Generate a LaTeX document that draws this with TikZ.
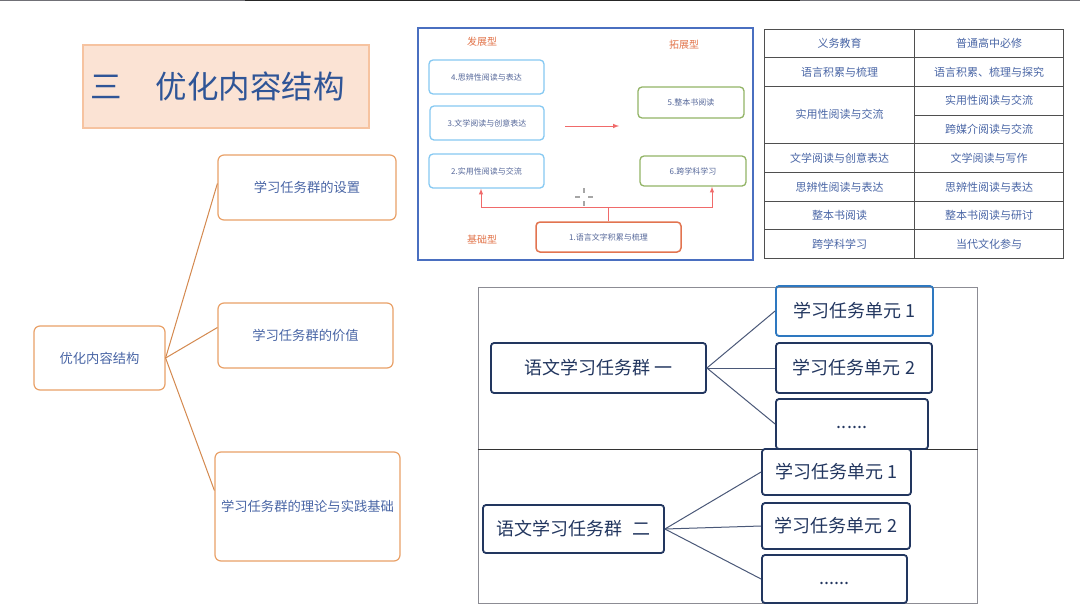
\documentclass[tikz,border=0pt]{standalone}
\usepackage{fontspec}
\setmainfont{Noto Sans CJK SC}
\usetikzlibrary{calc, positioning}

\definecolor{txtblue}{HTML}{2F5597}
\definecolor{softblue}{HTML}{4A66A6}
\definecolor{grayblue}{HTML}{56689A}
\definecolor{peach}{HTML}{FBE3D4}
\definecolor{peachline}{HTML}{F6C3A0}
\definecolor{boxorange}{HTML}{E9A168}
\definecolor{twigorange}{HTML}{D4894F}
\definecolor{panelblue}{HTML}{4A6FC0}
\definecolor{skyline}{HTML}{86C9F2}
\definecolor{leafgreen}{HTML}{92B466}
\definecolor{baseorange}{HTML}{E27450}
\definecolor{typeorange}{HTML}{E2744A}
\definecolor{arrowred}{HTML}{F06A6A}
\definecolor{tblgray}{HTML}{4F4F4F}
\definecolor{navy}{HTML}{22365F}
\definecolor{unitblue}{HTML}{2E78C0}
\definecolor{linkgray}{HTML}{4A5878}
\definecolor{framegray}{HTML}{8C8C94}

\begin{document}
\begin{tikzpicture}[>=latex, x=1pt, y=-1pt,
  branch/.style={draw=boxorange, line width=1.2pt, rounded corners=6pt, text=softblue,
    font=\fontsize{13.3}{16}\selectfont, inner sep=1pt},
  twig/.style={draw=twigorange, line width=1pt},
  typelbl/.style={text=typeorange, font=\fontsize{10}{12}\selectfont},
  minibox/.style={rounded corners=4pt, line width=1.3pt, text=grayblue,
    font=\fontsize{8}{10}\selectfont, inner sep=1pt},
  redln/.style={draw=arrowred, line width=1pt},
  cell/.style={draw=tblgray, line width=1pt, minimum height=28.7pt, text=softblue,
    font=\fontsize{11}{13}\selectfont, inner sep=0pt},
  group/.style={draw=navy, line width=1.8pt, rounded corners=3pt, text=navy,
    font=\fontsize{18}{21}\selectfont, inner sep=1pt},
  link/.style={draw=linkgray, line width=1pt}]
  \useasboundingbox (0,0) rectangle (1080,606);
  \fill[white] (0,0) rectangle (1080,606);
  % strip at the top edge
  \draw[line width=1.2pt, framegray!80!black] (0,0.6) -- (245,0.6);
  \draw[line width=1.2pt, black!85] (245,0.6) -- (800,0.6);
  \draw[line width=1.2pt, framegray!80!black] (800,0.6) -- (1080,0.6);

  % title
  \node[fill=peach, draw=peachline, line width=1.2pt, minimum width=286pt, minimum height=83pt] (ttl) at (226,86.5) {};
  \node[anchor=west, text=txtblue, font=\fontsize{31.5}{36}\selectfont, inner sep=0pt] (ttltxt) at (90,86) {三\hspace{34pt}优化内容结构};

  % mind map on the left
  \node[branch, minimum width=131pt, minimum height=64pt] (root) at (99.5,358) {优化内容结构};
  \node[branch, minimum width=178pt, minimum height=65pt] (setup) at (307,187.5) {学习任务群的设置};
  \node[branch, minimum width=175pt, minimum height=65pt] (value) at (305.5,335.5) {学习任务群的价值};
  \node[branch, minimum width=185pt, minimum height=109pt] (basis) at (307.5,506.5) {学习任务群的理论与实践基础};
  \draw[twig] (root.east) -- ([yshift=4pt]setup.west);
  \draw[twig] (root.east) -- ([yshift=8pt]value.west);
  \draw[twig] (root.east) -- ([yshift=16pt]basis.west);

  % picture of the six task groups
  \node[draw=panelblue, line width=1.6pt, minimum width=335pt, minimum height=232pt] (pic) at (585.5,144) {};
  \node[typelbl] (grow) at (482,42) {发展型};
  \node[typelbl] (wide) at (684,45) {拓展型};
  \node[typelbl] (ground) at (482,240) {基础型};
  \node[minibox, draw=skyline, minimum width=115pt, minimum height=34pt] (p4) at (486.5,77) {4.思辨性阅读与表达};
  \node[minibox, draw=skyline, minimum width=114pt, minimum height=34pt] (p3) at (487,123) {3.文学阅读与创意表达};
  \node[minibox, draw=skyline, minimum width=115pt, minimum height=34pt] (p2) at (486.5,171) {2.实用性阅读与交流};
  \node[minibox, draw=leafgreen, minimum width=106pt, minimum height=31pt] (p5) at (691,102.5) {5.整本书阅读};
  \node[minibox, draw=leafgreen, minimum width=106pt, minimum height=30pt] (p6) at (693,171) {6.跨学科学习};
  \node[minibox, draw=baseorange, line width=1.5pt, minimum width=145pt, minimum height=30pt] (p1) at (608.5,237) {1.语言文字积累与梳理};
  \coordinate (lt) at (481,207);
  \coordinate (rt) at (712,207);
  \draw[redln] (p1.north) -- (p1.north |- lt);
  \draw[redln, <->] (lt |- p2.south) -- (lt) -- (rt) -- (rt |- p6.south);
  \coordinate (ra) at (565,126);
  \coordinate (rb) at (619,126);
  \draw[redln, ->] (ra) -- (rb);
  \draw[gray!70, line width=1.3pt] (584,188) -- (584,193) (584,201) -- (584,206)
    (575,197) -- (580,197) (588,197) -- (593,197);

  % table of the task groups
  \foreach \r/\t in {0/义务教育, 1/语言积累与梳理, 4/文学阅读与创意表达, 5/思辨性阅读与表达, 6/整本书阅读, 7/跨学科学习}
    \node[cell, minimum width=150pt] (l\r) at (839.5,43.35+28.7*\r) {\t};
  \node[cell, minimum width=150pt, minimum height=57.4pt] (l2) at (839.5,114.7) {实用性阅读与交流};
  \foreach \r/\t in {0/普通高中必修, 1/语言积累、梳理与探究, 2/实用性阅读与交流, 3/跨媒介阅读与交流, 4/文学阅读与写作, 5/思辨性阅读与表达, 6/整本书阅读与研讨, 7/当代文化参与}
    \node[cell, minimum width=149pt] (r\r) at (989,43.35+28.7*\r) {\t};

  % task groups and units
  \node[draw=framegray, line width=1pt, minimum width=499pt, minimum height=162pt] (upper) at (727.5,368) {};
  \node[draw=framegray, line width=1pt, minimum width=499pt, minimum height=154pt] (lower) at (727.5,526) {};
  \draw[line width=1.2pt, black!80] (upper.south west) -- (upper.south east);
  \node[group, minimum width=215pt, minimum height=50pt] (g1) at (598.5,368) {语文学习任务群 一};
  \node[group, draw=unitblue, minimum width=157pt, minimum height=50pt] (u11) at (854.5,311) {学习任务单元 1};
  \node[group, minimum width=156pt, minimum height=50pt] (u12) at (854,368) {学习任务单元 2};
  \node[group, minimum width=152pt, minimum height=50pt] (u13) at (852,424) {\raisebox{-4pt}[0pt][0pt]{......}};
  \node[group, minimum width=181pt, minimum height=48pt] (g2) at (573.5,529) {语文学习任务群\hspace{0.6em}二};
  \node[group, minimum width=149pt, minimum height=46pt] (u21) at (836.5,472) {学习任务单元 1};
  \node[group, minimum width=148pt, minimum height=46pt] (u22) at (836,526) {学习任务单元 2};
  \node[group, minimum width=145pt, minimum height=48pt] (u23) at (834.5,579) {\raisebox{-5pt}[0pt][0pt]{......}};
  \foreach \u in {u11, u12, u13}
    \draw[link] (g1.east) -- (\u.west);
  \foreach \u in {u21, u22, u23}
    \draw[link] (g2.east) -- (\u.west);
\end{tikzpicture}
\end{document}
